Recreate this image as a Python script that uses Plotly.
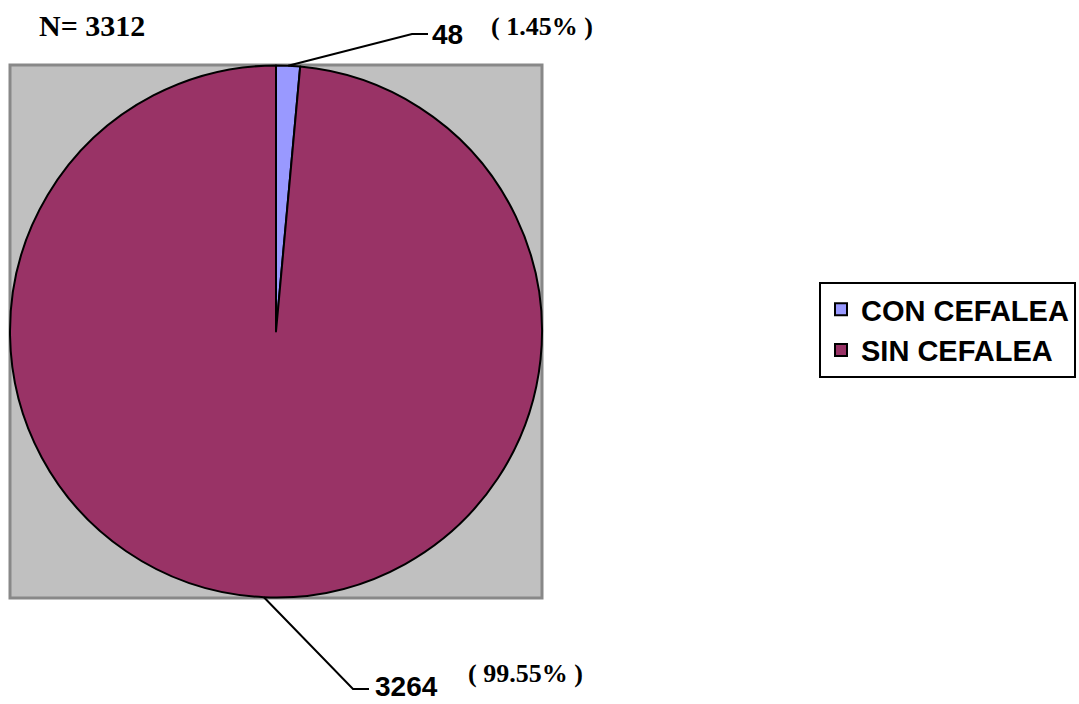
import math
import plotly.graph_objects as go

# Data
categories = ["CON CEFALEA", "SIN CEFALEA"]
counts = [48, 3264]
percent_labels = ["( 1.45% )", "( 99.55% )"]
total_label = "N= 3312"
colors = ["#9999FF", "#993366"]

W, H = 1079, 704


def px(x):
    return x / W


def py(y):
    return 1 - y / H


# Pie placement (pixels)
left, right, top, bottom = 10, 542, 65, 598
cx, cy = (left + right) / 2, (top + bottom) / 2
r = (right - left) / 2

fig = go.Figure(
    go.Pie(
        labels=categories,
        values=counts,
        sort=False,
        direction="clockwise",
        rotation=0,
        marker=dict(colors=colors, line=dict(color="black", width=2)),
        textinfo="none",
        hoverinfo="skip",
        domain=dict(x=[px(left), px(right)], y=[py(bottom), py(top)]),
    )
)

shapes = [
    dict(
        type="rect", xref="paper", yref="paper", layer="below",
        x0=px(left), x1=px(right), y0=py(bottom), y1=py(top),
        fillcolor="#C0C0C0", line=dict(color="#888888", width=3),
    )
]

# Leader lines start at the middle of each slice's outer edge
total = sum(counts)
cum = 0
mid_angles = []
for v in counts:
    mid_angles.append((cum + v / 2) / total * 2 * math.pi)
    cum += v

label_anchor = [((412, 34), (428, 34)), ((353, 689), (369, 689))]
for ang, (bend, end) in zip(mid_angles, label_anchor):
    sx = cx + r * math.sin(ang)
    sy = cy - r * math.cos(ang)
    shapes.append(dict(
        type="path", xref="paper", yref="paper", layer="above",
        path=f"M{px(sx)},{py(sy)} L{px(bend[0])},{py(bend[1])} L{px(end[0])},{py(end[1])}",
        line=dict(color="black", width=2),
    ))

arial = "Arial, Liberation Sans, sans-serif"
times = "Times New Roman, Liberation Serif, serif"

annotations = [
    dict(text=f"<b>{total_label}</b>", x=px(92), y=py(25),
         font=dict(family=times, size=30, color="black")),
    dict(text=f"<b>{counts[0]}</b>", x=px(447), y=py(34),
         font=dict(family=arial, size=28, color="black")),
    dict(text=f"<b>{percent_labels[0]}</b>", x=px(542), y=py(26),
         font=dict(family=times, size=26, color="black")),
    dict(text=f"<b>{counts[1]}</b>", x=px(406), y=py(686),
         font=dict(family=arial, size=28, color="black")),
    dict(text=f"<b>{percent_labels[1]}</b>", x=px(525), y=py(673),
         font=dict(family=times, size=26, color="black")),
]
for a in annotations:
    a.update(xref="paper", yref="paper", showarrow=False,
             xanchor="center", yanchor="middle", borderpad=0)

fig.update_layout(
    width=W, height=H,
    margin=dict(l=0, r=0, t=0, b=0),
    paper_bgcolor="white",
    plot_bgcolor="white",
    shapes=shapes,
    annotations=annotations,
    showlegend=True,
    legend=dict(
        x=px(819), y=py(282), xanchor="left", yanchor="top",
        bordercolor="black", borderwidth=2, bgcolor="white",
        font=dict(family=arial, size=29, color="black", weight="bold"),
    ),
)

fig.write_html("out.html")
